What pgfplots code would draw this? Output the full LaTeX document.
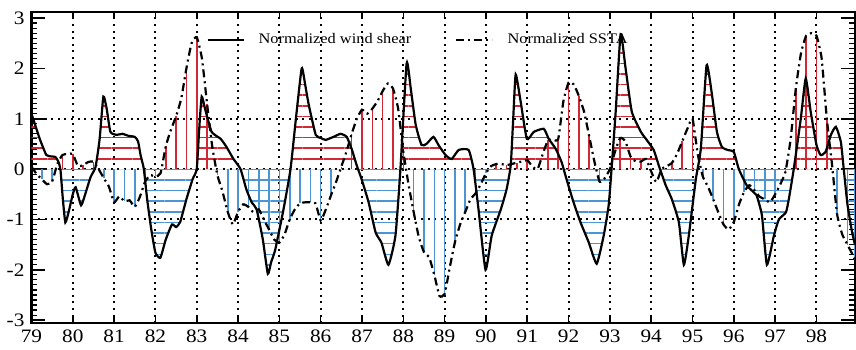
\documentclass[border=0pt]{standalone}
\usepackage{fontspec}
\setmainfont{Liberation Serif}[FakeStretch=1.12]
\usepackage{pgfplots}
\pgfplotsset{compat=1.18}
\usepackage{pgfplotstable}
\usetikzlibrary{patterns.meta}
\definecolor{wsred}{RGB}{208,40,52}
\definecolor{wsblue}{RGB}{75,150,210}

\pgfplotstableread{
x y
79.00 1.10
79.10 0.85
79.20 0.60
79.36 0.28
79.50 0.25
79.58 0.24
79.65 0.15
79.70 0.00
79.76 -0.60
79.82 -1.06
79.90 -0.85
80.00 -0.50
80.07 -0.36
80.20 -0.72
80.30 -0.50
80.43 -0.16
80.55 0.04
80.65 0.60
80.74 1.44
80.82 1.20
80.91 0.74
81.06 0.68
81.20 0.70
81.35 0.66
81.50 0.64
81.58 0.55
81.64 0.28
81.72 0.00
81.80 -0.60
81.90 -1.20
82.00 -1.66
82.12 -1.76
82.25 -1.40
82.40 -1.10
82.50 -1.15
82.60 -1.05
82.75 -0.60
82.90 -0.20
83.00 0.00
83.06 0.80
83.12 1.44
83.20 1.20
83.36 0.74
83.58 0.60
83.72 0.44
83.89 0.20
84.06 0.00
84.20 -0.40
84.33 -0.66
84.45 -0.80
84.60 -1.40
84.72 -2.08
84.80 -1.85
84.90 -1.60
85.10 -0.80
85.27 0.00
85.40 1.00
85.54 2.00
85.62 1.70
85.71 1.28
85.88 0.68
86.00 0.62
86.12 0.58
86.31 0.64
86.48 0.70
86.63 0.64
86.75 0.40
86.87 0.08
86.99 -0.20
87.16 -0.66
87.33 -1.26
87.47 -1.46
87.64 -1.90
87.81 -1.32
87.93 0.00
88.08 2.10
88.18 1.60
88.30 0.88
88.44 0.48
88.56 0.50
88.73 0.64
88.85 0.48
89.02 0.28
89.17 0.20
89.34 0.38
89.58 0.38
89.70 0.00
89.82 -0.80
89.99 -2.00
90.14 -1.32
90.36 -0.80
90.50 -0.40
90.60 0.08
90.66 1.00
90.72 1.88
90.84 1.34
90.99 0.60
91.16 0.74
91.40 0.80
91.52 0.60
91.69 0.40
91.83 0.14
91.95 -0.20
92.12 -0.66
92.29 -1.06
92.49 -1.46
92.68 -1.88
92.85 -1.32
92.97 -0.72
93.04 0.00
93.14 1.14
93.26 2.68
93.38 2.00
93.53 1.14
93.75 0.74
93.89 0.58
94.06 0.38
94.18 0.08
94.35 -0.32
94.50 -0.60
94.67 -1.06
94.79 -1.90
94.91 -1.32
95.08 -0.20
95.20 0.40
95.34 2.06
95.46 1.54
95.59 0.74
95.71 0.44
95.85 0.38
96.00 0.34
96.12 0.00
96.31 -0.32
96.48 -0.46
96.55 -0.52
96.68 -0.92
96.80 -1.90
96.97 -1.32
97.09 -1.00
97.26 -0.86
97.33 -0.60
97.45 0.00
97.62 1.00
97.74 1.80
97.86 1.14
98.00 0.48
98.10 0.28
98.22 0.34
98.35 0.68
98.47 0.84
98.59 0.54
98.66 0.00
98.75 -0.70
98.85 -1.20
98.93 -1.50
}\ws

\pgfplotstableread{
x y
79.000 0.05
79.125 -0.10
79.250 -0.20
79.375 -0.30
79.500 -0.25
79.625 0.10
79.750 0.28
79.875 0.30
80.000 0.30
80.125 0.06
80.250 0.08
80.375 0.14
80.500 0.15
80.625 0.00
80.750 -0.18
80.875 -0.35
81.000 -0.66
81.125 -0.54
81.250 -0.64
81.375 -0.62
81.500 -0.75
81.625 -0.55
81.750 -0.25
81.875 -0.12
82.000 -0.15
82.125 -0.08
82.250 0.45
82.375 0.78
82.500 1.05
82.625 1.40
82.750 2.00
82.875 2.50
83.000 2.62
83.125 2.20
83.250 1.30
83.375 0.45
83.500 -0.12
83.625 -0.45
83.750 -0.85
83.875 -1.10
84.000 -0.85
84.125 -0.70
84.250 -0.75
84.375 -0.86
84.500 -0.80
84.625 -1.00
84.750 -1.20
84.875 -1.40
85.000 -1.46
85.125 -1.30
85.250 -1.00
85.375 -0.80
85.500 -0.68
85.625 -0.66
85.750 -0.66
85.875 -0.68
86.000 -1.02
86.125 -0.80
86.250 -0.52
86.375 -0.25
86.500 0.05
86.625 0.35
86.750 0.70
86.875 1.00
87.000 1.18
87.125 1.10
87.250 1.20
87.375 1.35
87.500 1.55
87.625 1.70
87.750 1.60
87.875 1.20
88.000 0.35
88.125 -0.30
88.250 -0.85
88.375 -1.35
88.500 -1.65
88.625 -1.75
88.750 -2.10
88.875 -2.52
89.000 -2.48
89.125 -1.95
89.250 -1.45
89.375 -1.10
89.500 -0.85
89.625 -0.60
89.750 -0.48
89.875 -0.30
90.000 -0.08
90.125 0.06
90.250 0.10
90.375 0.10
90.500 0.08
90.625 0.10
90.750 0.13
90.875 0.15
91.000 0.18
91.125 0.05
91.250 0.00
91.375 0.30
91.500 0.57
91.625 0.58
91.750 0.60
91.875 1.35
92.000 1.72
92.125 1.68
92.250 1.45
92.375 1.14
92.500 0.65
92.625 0.15
92.750 -0.25
92.875 -0.18
93.000 0.00
93.125 0.35
93.250 0.62
93.375 0.55
93.500 0.25
93.625 0.15
93.750 0.15
93.875 0.20
94.000 -0.05
94.125 -0.26
94.250 0.00
94.375 0.06
94.500 0.12
94.625 0.30
94.750 0.55
94.875 0.80
95.000 1.00
95.125 0.30
95.250 -0.15
95.375 -0.35
95.500 -0.60
95.625 -0.86
95.750 -1.10
95.875 -1.20
96.000 -1.05
96.125 -0.70
96.250 -0.45
96.375 -0.32
96.500 -0.42
96.625 -0.55
96.750 -0.60
96.875 -0.66
97.000 -0.50
97.125 -0.30
97.250 -0.05
97.375 0.60
97.500 1.60
97.625 2.30
97.750 2.65
97.875 2.70
98.000 2.65
98.125 2.20
98.250 1.00
98.375 0.10
98.500 -0.90
98.625 -1.30
98.750 -1.50
98.875 -1.70
98.930 -1.80
}\ssta

\begin{document}
\begin{tikzpicture}
\begin{axis}[
  scale only axis,
  width=411.5pt, height=155.5pt,
  xmin=79, xmax=98.93, ymin=-3.06, ymax=3.12,
  xtick={79,...,98}, ytick={-3,...,3},
  minor y tick num=9,
  ytick pos=both, yticklabel pos=left,
  xtick pos=both, xticklabel pos=bottom,
  tick align=inside,
  major tick length=7pt, minor tick length=3pt,
  xtick style={/pgfplots/major tick length=3pt},
  tick style={black, line width=0.8pt},
  minor tick style={line width=0.6pt},
  xmajorgrids,
  major grid style={black, line width=1pt, dash pattern=on 1pt off 2.3pt},
  extra y ticks={-1,0,1}, extra y tick labels={},
  extra y tick style={grid=major, /pgfplots/major tick length=0pt},
  axis line style={line width=1.1pt},
  /pgf/number format/assume math mode=true,
  ticklabel style={font=\fontsize{9.5}{11}\selectfont},
  legend style={at={(0.212,0.91)}, anchor=west, draw=none, fill=none,
    inner sep=0pt, font=\fontsize{7.3}{9}\selectfont,
    /tikz/every even column/.append style={column sep=20pt},
    /tikz/every odd column/.append style={column sep=5pt}},
  legend columns=2,
  legend image code/.code={\draw[#1] (0pt,0pt) -- (18pt,0pt);},
]
% wind shear fills (horizontal hatching)
\begin{scope}
\clip (axis cs:79,0) rectangle (axis cs:98.93,3.12);
\addplot[draw=none, forget plot, smooth, tension=0.3, pattern={Lines[angle=0,distance=5.3pt,line width=0.75pt]}, pattern color=wsred] table {\ws} \closedcycle;
\end{scope}
\begin{scope}
\clip (axis cs:79,-3.06) rectangle (axis cs:98.93,0);
\addplot[draw=none, forget plot, smooth, tension=0.3, pattern={Lines[angle=0,distance=5.3pt,line width=0.75pt]}, pattern color=wsblue] table {\ws} \closedcycle;
\end{scope}
% SSTA vertical hatching
\addplot[ycomb, forget plot, wsred, line width=0.8pt, mark=none, each nth point=2, filter discard warning=false, restrict y to domain=0:10] table {\ssta};
\addplot[ycomb, forget plot, wsblue, line width=0.8pt, mark=none, each nth point=2, filter discard warning=false, restrict y to domain=-10:0] table {\ssta};
% curves
\addplot[black, line width=1.1pt, mark=none, smooth, tension=0.3] table {\ws};
\addlegendentry{Normalized wind shear}
\addplot[black, line width=1.1pt, mark=none, smooth, tension=0.3, dash pattern=on 4pt off 2pt on 1pt off 2pt] table {\ssta};
\addlegendentry{Normalized SSTA}
\end{axis}
\path (current axis.north) ++(0,6pt);
\end{tikzpicture}
\end{document}
